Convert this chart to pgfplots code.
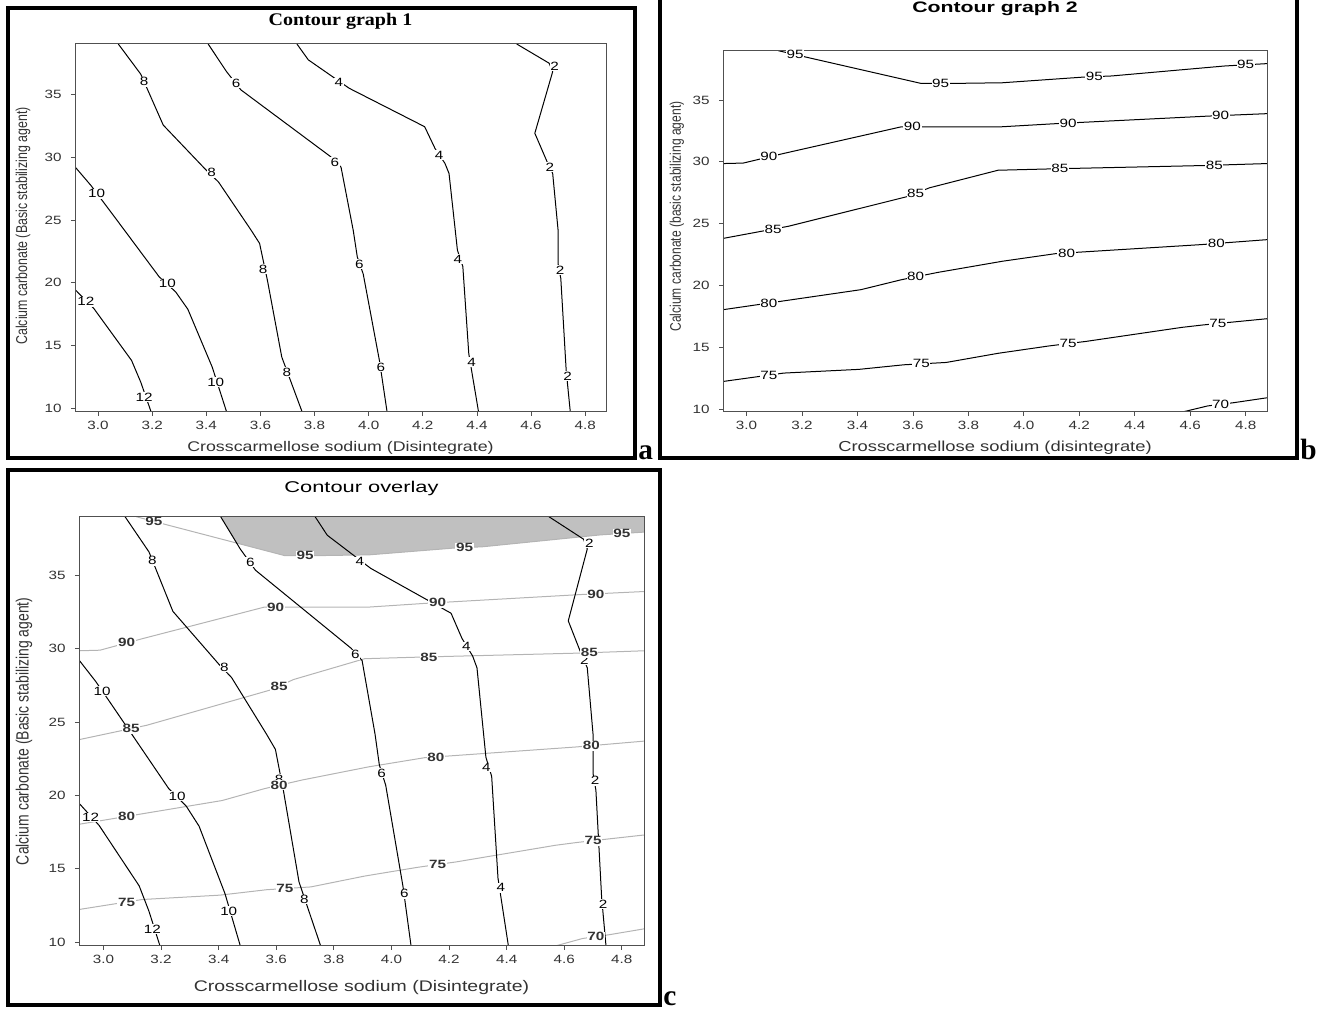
\documentclass[border=0pt]{standalone}
\usepackage{fontspec}
\setmainfont{Liberation Sans}
\usepackage{pgfplots}
\usepackage{pgfplotstable}
\pgfplotsset{compat=1.18}
\newfontfamily\tsans[FakeStretch=1.27]{Liberation Sans}
\newfontfamily\hsans[FakeStretch=1.4]{Liberation Sans}
\newfontfamily\vsans[FakeStretch=0.787]{Liberation Sans}
\newfontfamily\tserif[FakeStretch=1.13]{Liberation Serif}
\newfontfamily\lserif{Liberation Serif}
\definecolor{txt}{HTML}{333333}
\definecolor{axc}{HTML}{505050}
\definecolor{ovg}{HTML}{B4B4B4}
\definecolor{shadec}{HTML}{C0C0C0}

% ---------- response 1 contours ----------
\pgfplotstableread{
x y
2.915 19.47
2.985 17.95
3.124 13.83
3.158 12.1
3.196 9.75
}\cTwelve
\pgfplotstableread{
x y
2.915 29.23
2.973 27.77
3.015 26.57
3.098 24.18
3.226 20.48
3.287 19.28
3.332 17.9
3.422 13.3
3.475 9.75
}\cTen
\pgfplotstableread{
x y
3.075 39.0
3.158 36.6
3.241 32.55
3.40 28.96
3.445 28.03
3.566 24.18
3.597 23.14
3.626 20.2
3.679 14.1
3.754 9.75
}\cEight
\pgfplotstableread{
x y
3.407 39.0
3.475 36.8
3.528 35.35
3.86 30.03
3.898 29.2
3.943 24.18
3.958 22.07
3.98 20.7
4.04 13.8
4.068 9.75
}\cSix
\pgfplotstableread{
x y
3.735 39.0
3.777 37.74
3.928 35.48
4.207 32.42
4.245 30.7
4.282 29.5
4.297 28.7
4.32 24.18
4.328 22.6
4.348 21.3
4.37 14.36
4.406 9.75
}\cFour
\pgfplotstableread{
x y
4.547 39.0
4.667 37.47
4.68 36.8
4.614 31.9
4.66 29.6
4.68 28.7
4.70 24.18
4.70 21.5
4.71 20.35
4.73 13.0
4.745 9.75
}\cTwoc
\pgfplotstableread{
x y l
2.955 18.5 12
3.17 10.9 12
2.995 27.1 10
3.256 19.95 10
3.435 12.1 10
3.17 36.0 8
3.42 28.75 8
3.61 21.1 8
3.698 12.9 8
3.51 35.9 6
3.875 29.6 6
3.966 21.5 6
4.045 13.3 6
3.89 35.95 4
4.26 30.16 4
4.33 21.9 4
4.38 13.7 4
4.687 37.2 2
4.67 29.2 2
4.707 21.0 2
4.735 12.6 2
}\labA

% ---------- response 2 contours ----------
\pgfplotstableread{
x y
3.114 39.0
3.21 38.5
3.629 36.35
3.752 36.35
3.922 36.4
4.215 36.86
4.316 36.95
4.725 37.76
4.877 37.95
}\cNinetyFive
\pgfplotstableread{
x y
2.915 29.86
2.988 29.9
3.134 30.68
3.559 32.84
3.922 32.84
4.123 33.1
4.663 33.7
4.877 33.9
}\cNinety
\pgfplotstableread{
x y
2.915 23.8
3.15 24.78
3.582 27.2
3.66 27.9
3.907 29.32
4.10 29.43
4.648 29.7
4.877 29.86
}\cEightyFive
\pgfplotstableread{
x y
2.915 18.03
3.412 19.65
3.559 20.46
3.69 21.05
3.922 21.95
4.115 22.57
4.64 23.3
4.877 23.7
}\cEighty
\pgfplotstableread{
x y
2.915 12.22
3.134 12.9
3.405 13.2
3.567 13.57
3.72 13.76
3.907 14.5
4.092 15.1
4.223 15.46
4.57 16.6
4.648 16.8
4.877 17.3
}\cSeventyFive
\pgfplotstableread{
x y
4.572 9.75
4.663 10.24
4.756 10.5
4.877 10.9
}\cSeventy
\pgfplotstableread{
x y l
3.175 38.68 95
3.70 36.35 95
4.254 36.89 95
4.80 37.85 95
3.08 30.42 90
3.598 32.84 90
4.16 33.14 90
4.71 33.74 90
3.096 24.55 85
3.61 27.45 85
4.13 29.44 85
4.687 29.73 85
3.08 18.57 80
3.61 20.69 80
4.154 22.62 80
4.694 23.39 80
3.08 12.73 75
3.63 13.65 75
4.16 15.29 75
4.70 16.91 75
4.71 10.37 70
}\labB
% feasible (shaded) region of the overlay
\pgfplotstableread{
x y
3.392 39.5
3.4625 37.2
3.629 36.35
3.752 36.35
3.922 36.4
4.215 36.86
4.316 36.95
4.725 37.76
4.877 37.95
4.95 38.1
4.95 39.5
}\shadeReg

\pgfplotsset{
  every axis title shift=0pt,
  cbase/.style={
    scale only axis,
    xmin=2.915, xmax=4.877, ymin=9.75, ymax=39.0,
    xtick={3.0,3.2,3.4,3.6,3.8,4.0,4.2,4.4,4.6,4.8},
    xticklabels={3.0,3.2,3.4,3.6,3.8,4.0,4.2,4.4,4.6,4.8},
    ytick={10,15,20,25,30,35},
    yticklabels={10,15,20,25,30,35},
    tick pos=left, tick align=outside,
    major tick length=3pt,
    tick style={axc, line width=0.6pt},
    axis line style={axc, line width=0.75pt},
    ticklabel style={font=\tsans\fontsize{9}{10}\selectfont, text=txt},
    yticklabel style={xshift=-3.5pt},
    xticklabel style={yshift=-0.5pt},
    axis on top,
  },
  cline/.style={black, line width=0.75pt, mark=none, line join=round},
  gline/.style={ovg, line width=0.75pt, mark=none, line join=round},
  clab/.style={draw=none, mark=none, nodes near coords, point meta=explicit symbolic,
    nodes near coords align={center},
    every node near coord/.append style={anchor=center, fill=white, inner sep=0.5pt,
      text=black, font=\tsans\fontsize{9}{10}\selectfont}},
}

\begin{document}
\begin{tikzpicture}
\useasboundingbox (0,0) rectangle (996pt,757.5pt);

% ================= panel a =================
\begin{axis}[cbase,
  at={(56.25pt,448.7pt)}, anchor=south west,
  width=398.25pt, height=275.8pt,
  title={Contour graph 1},
  title style={at={(axis description cs:0.5,1.0625)}, anchor=center,
    font=\tserif\bfseries\fontsize{13.3}{15}\selectfont},
  xlabel={Crosscarmellose sodium (Disintegrate)},
  xlabel style={at={(axis description cs:0.5,-0.0987)}, anchor=center,
    font=\tsans\fontsize{10.5}{12}\selectfont, text=txt},
  ylabel={Calcium carbonate (Basic stabilizing agent)},
  ylabel style={at={(axis description cs:-0.0979,0.505)}, anchor=center,
    font=\vsans\fontsize{11.8}{13}\selectfont, text=txt},
]
\addplot[cline] table {\cTwelve};
\addplot[cline] table {\cTen};
\addplot[cline] table {\cEight};
\addplot[cline] table {\cSix};
\addplot[cline] table {\cFour};
\addplot[cline] table {\cTwoc};
\addplot[clab] table[meta=l] {\labA};
\end{axis}

% ================= panel b =================
\begin{axis}[cbase,
  at={(542.25pt,448.5pt)}, anchor=south west,
  width=408pt, height=271pt,
  title={Contour graph 2},
  title style={at={(axis description cs:0.5,1.1154)}, anchor=center,
    font=\hsans\bfseries\fontsize{11.4}{13}\selectfont},
  xlabel={Crosscarmellose sodium (disintegrate)},
  xlabel style={at={(axis description cs:0.5,-0.0996)}, anchor=center,
    font=\tsans\fontsize{10.85}{12}\selectfont, text=txt},
  ylabel={Calcium carbonate (basic stabilizing agent)},
  ylabel style={at={(axis description cs:-0.0846,0.541)}, anchor=center,
    font=\vsans\fontsize{11.5}{13}\selectfont, text=txt},
]
\addplot[cline] table {\cNinetyFive};
\addplot[cline] table {\cNinety};
\addplot[cline] table {\cEightyFive};
\addplot[cline] table {\cEighty};
\addplot[cline] table {\cSeventyFive};
\addplot[cline] table {\cSeventy};
\addplot[clab] table[meta=l] {\labB};
\end{axis}

% ================= panel c =================
\begin{axis}[cbase,
  at={(59.25pt,48.2pt)}, anchor=south west,
  width=423.75pt, height=321.75pt,
  title={Contour overlay},
  title style={at={(axis description cs:0.5,1.0669)}, anchor=center,
    font=\hsans\fontsize{11.7}{13}\selectfont, text=black},
  xlabel={Crosscarmellose sodium (Disintegrate)},
  xlabel style={at={(axis description cs:0.5,-0.0986)}, anchor=center,
    font=\tsans\fontsize{11.5}{13}\selectfont, text=txt},
  ylabel={Calcium carbonate (Basic stabilizing agent)},
  ylabel style={at={(axis description cs:-0.0973,0.5)}, anchor=center,
    font=\vsans\fontsize{13.3}{15}\selectfont, text=txt},
]
\addplot[fill=shadec, draw=none, mark=none] table {\shadeReg};
\addplot[gline] table {\cNinetyFive};
\addplot[gline] table {\cNinety};
\addplot[gline] table {\cEightyFive};
\addplot[gline] table {\cEighty};
\addplot[gline] table {\cSeventyFive};
\addplot[gline] table {\cSeventy};
\addplot[cline] table {\cTwelve};
\addplot[cline] table {\cTen};
\addplot[cline] table {\cEight};
\addplot[cline] table {\cSix};
\addplot[cline] table {\cFour};
\addplot[cline] table {\cTwoc};
\addplot[clab] table[meta=l] {\labA};
\addplot[clab, every node near coord/.append style={text=txt,
    font=\tsans\bfseries\fontsize{9}{10}\selectfont}] table[meta=l] {\labB};
\end{axis}

% frames and panel letters
\draw[line width=3pt] (6pt,414pt) rectangle (476.25pt,751.5pt);
\draw[line width=3pt] (495pt,414pt) rectangle (972.75pt,775pt);
\draw[line width=3pt] (6pt,3.375pt) rectangle (495pt,405pt);
\node[anchor=base west, inner sep=0pt, font=\lserif\bfseries\fontsize{22}{24}\selectfont] at (478.5pt,412.5pt) {a};
\node[anchor=base west, inner sep=0pt, font=\lserif\bfseries\fontsize{22}{24}\selectfont] at (975pt,412.5pt) {b};
\node[anchor=base west, inner sep=0pt, font=\lserif\bfseries\fontsize{22}{24}\selectfont] at (497.25pt,3.5pt) {c};
\end{tikzpicture}
\end{document}
